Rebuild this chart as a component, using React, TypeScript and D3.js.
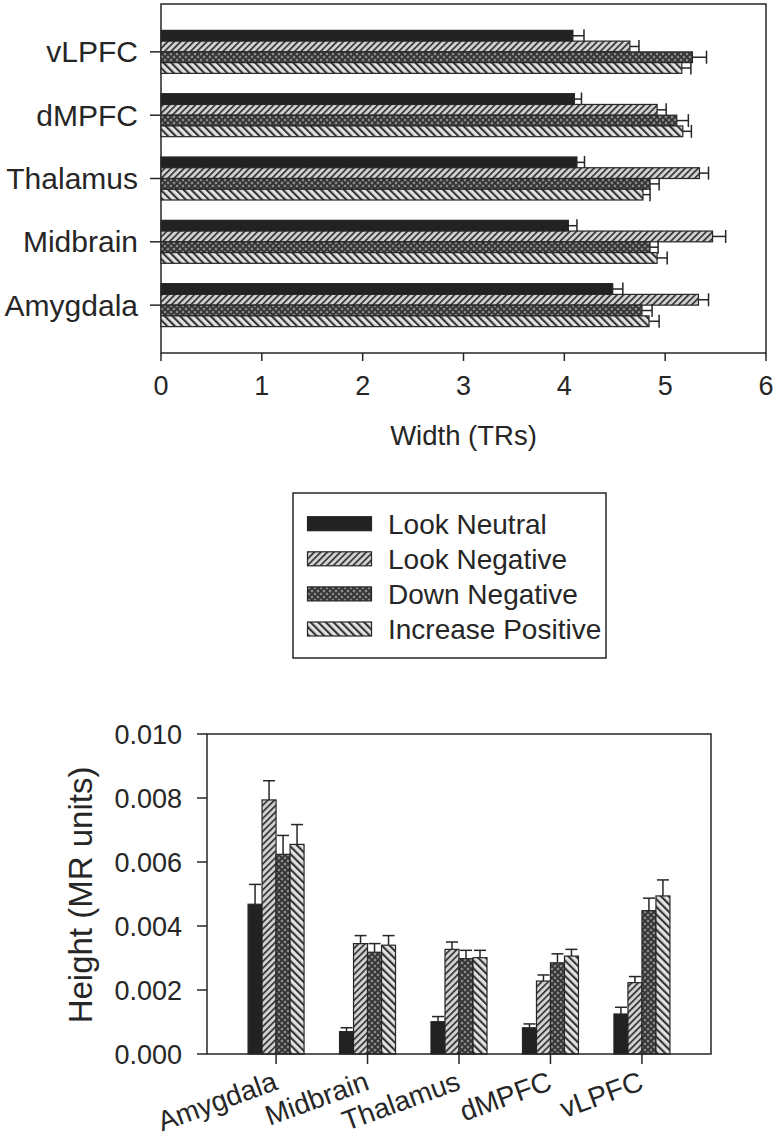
import React from "react";
import * as d3 from "d3";

const categories = ["Amygdala", "Midbrain", "Thalamus", "dMPFC", "vLPFC"];
const seriesNames = ["Look Neutral", "Look Negative", "Down Negative", "Increase Positive"];

// Width (TRs) — top chart
const widthLookNeutral = [4.48, 4.04, 4.125, 4.1, 4.085];
const widthLookNegative = [5.33, 5.47, 5.34, 4.92, 4.65];
const widthDownNegative = [4.77, 4.85, 4.85, 5.115, 5.27];
const widthIncreasePositive = [4.84, 4.92, 4.78, 5.175, 5.165];
const widthErrLookNeutral = [0.1, 0.085, 0.075, 0.07, 0.11];
const widthErrLookNegative = [0.1, 0.13, 0.09, 0.09, 0.09];
const widthErrDownNegative = [0.1, 0.08, 0.09, 0.115, 0.14];
const widthErrIncreasePositive = [0.1, 0.1, 0.07, 0.085, 0.09];
const widthTicks = [0, 1, 2, 3, 4, 5, 6];

// Height (MR units) — bottom chart
const heightLookNeutral = [0.00468, 0.0007, 0.00101, 0.00082, 0.00125];
const heightLookNegative = [0.00794, 0.00345, 0.00327, 0.00228, 0.00223];
const heightDownNegative = [0.00624, 0.00318, 0.00298, 0.00285, 0.00448];
const heightIncreasePositive = [0.00655, 0.0034, 0.00301, 0.00306, 0.00494];
const heightErrLookNeutral = [0.00062, 0.00012, 0.00016, 0.00012, 0.00021];
const heightErrLookNegative = [0.0006, 0.00025, 0.00023, 0.00019, 0.00019];
const heightErrDownNegative = [0.00059, 0.00027, 0.00026, 0.00028, 0.00039];
const heightErrIncreasePositive = [0.00062, 0.0003, 0.00023, 0.00021, 0.0005];
const heightTicks = [0, 0.002, 0.004, 0.006, 0.008, 0.01];

const widthValues = [widthLookNeutral, widthLookNegative, widthDownNegative, widthIncreasePositive];
const widthErrors = [widthErrLookNeutral, widthErrLookNegative, widthErrDownNegative, widthErrIncreasePositive];
const heightValues = [heightLookNeutral, heightLookNegative, heightDownNegative, heightIncreasePositive];
const heightErrors = [heightErrLookNeutral, heightErrLookNegative, heightErrDownNegative, heightErrIncreasePositive];

const FONT = "'Liberation Sans', Arial, Helvetica, sans-serif";
const INK = "#262626";
const fills = ["#222", "url(#pLookNeg)", "url(#pDownNeg)", "url(#pIncPos)"];

export default function App() {
  // ---------- top chart ----------
  const tL = 161, tR = 766, tT = 4, tB = 353;
  const xW = d3.scaleLinear().domain([0, 6]).range([tL, tR]);
  const yCat = d3.scalePoint<string>().domain([...categories].reverse()).range([tT, tB]).padding(0.756);
  const tGroup = 43;
  const ySer = d3.scaleBand<string>().domain(seriesNames).range([-tGroup / 2, tGroup / 2]);

  // ---------- bottom chart ----------
  const bL = 207, bR = 711, bT = 734, bB = 1054;
  const xCat = d3.scalePoint<string>().domain(categories).range([bL, bR]).padding(0.755);
  const yH = d3.scaleLinear().domain([0, 0.01]).range([bB, bT]);
  const bGroup = 56;
  const xSer = d3.scaleBand<string>().domain(seriesNames).range([-bGroup / 2, bGroup / 2]);

  const fmt = d3.format(".3f");

  return (
    <svg width={776} height={1136} style={{ position: "absolute", left: 0, top: 0, background: "#fff" }} fontFamily={FONT}>
      <defs>
        <pattern id="pLookNeg" patternUnits="userSpaceOnUse" width={4.6} height={4.6} patternTransform="rotate(45)">
          <rect width={4.6} height={4.6} fill="#d2d2d2" />
          <line x1={0.8} y1={0} x2={0.8} y2={4.6} stroke="#333" strokeWidth={1.8} />
        </pattern>
        <pattern id="pIncPos" patternUnits="userSpaceOnUse" width={5.4} height={5.4} patternTransform="rotate(-45)">
          <rect width={5.4} height={5.4} fill="#e2e2e2" />
          <line x1={1} y1={0} x2={1} y2={5.4} stroke="#333" strokeWidth={2.2} />
        </pattern>
        <pattern id="pDownNeg" patternUnits="userSpaceOnUse" width={6} height={6}>
          <rect width={6} height={6} fill="#8c8c8c" />
          <path d="M0,0 L6,6 M6,0 L0,6 M-1,5 L1,7 M5,-1 L7,1 M-1,1 L1,-1 M5,7 L7,5" stroke="#333" strokeWidth={1.9} />
        </pattern>
      </defs>

      {/* ===== TOP CHART ===== */}
      <rect x={tL} y={tT} width={tR - tL} height={tB - tT} fill="none" stroke={INK} strokeWidth={1.5} />
      {categories.map((c, ci) => {
        const cy = yCat(c)!;
        return (
          <g key={"tb" + c}>
            {seriesNames.map((s, si) => {
              const v = widthValues[si][ci];
              const e = widthErrors[si][ci];
              const y0 = cy + ySer(s)!;
              const h = ySer.bandwidth();
              const mid = y0 + h / 2;
              return (
                <g key={s}>
                  <line x1={xW(v)} x2={xW(v + e)} y1={mid} y2={mid} stroke={INK} strokeWidth={1.5} />
                  <line x1={xW(v + e)} x2={xW(v + e)} y1={mid - 6.5} y2={mid + 6.5} stroke={INK} strokeWidth={1.5} />
                  <rect x={xW(0)} y={y0} width={xW(v) - xW(0)} height={h} fill={fills[si]} stroke={INK} strokeWidth={1.2} />
                </g>
              );
            })}
            <line x1={tL - 11} x2={tL} y1={cy} y2={cy} stroke={INK} strokeWidth={1.5} />
            <text x={138} y={cy + 10.5} textAnchor="end" fontSize={30} fill={INK}>{c}</text>
          </g>
        );
      })}
      {widthTicks.map((t) => (
        <g key={"wt" + t}>
          <line x1={xW(t)} x2={xW(t)} y1={tB} y2={tB + 8} stroke={INK} strokeWidth={1.5} />
          <text x={xW(t)} y={394.5} textAnchor="middle" fontSize={27} fill={INK}>{t}</text>
        </g>
      ))}
      <text x={(tL + tR) / 2} y={445} textAnchor="middle" fontSize={27.5} fill={INK}>Width (TRs)</text>

      {/* ===== LEGEND ===== */}
      <rect x={293} y={493} width={313} height={165} fill="none" stroke={INK} strokeWidth={1.5} />
      {seriesNames.map((s, si) => {
        const cy = 523.7 + si * 35.1;
        return (
          <g key={"lg" + s}>
            <rect x={307.5} y={cy - 7} width={64} height={14} fill={fills[si]} stroke={INK} strokeWidth={1.2} />
            <text x={388} y={cy + 9.8} fontSize={28} fill={INK}>{s}</text>
          </g>
        );
      })}

      {/* ===== BOTTOM CHART ===== */}
      {categories.map((c, ci) => {
        const cx = xCat(c)!;
        return (
          <g key={"bb" + c}>
            {seriesNames.map((s, si) => {
              const v = heightValues[si][ci];
              const e = heightErrors[si][ci];
              const x0 = cx + xSer(s)!;
              const w = xSer.bandwidth();
              const mid = x0 + w / 2;
              return (
                <g key={s}>
                  <line x1={mid} x2={mid} y1={yH(v)} y2={yH(v + e)} stroke={INK} strokeWidth={1.5} />
                  <line x1={mid - 6} x2={mid + 6} y1={yH(v + e)} y2={yH(v + e)} stroke={INK} strokeWidth={1.5} />
                  <rect x={x0} y={yH(v)} width={w} height={yH(0) - yH(v)} fill={fills[si]} stroke={INK} strokeWidth={1.2} />
                </g>
              );
            })}
            <line x1={cx} x2={cx} y1={bB} y2={bB + 10} stroke={INK} strokeWidth={1.5} />
            <text transform={`translate(${cx + 3},${bB + 35}) rotate(-20)`} textAnchor="end" fontSize={28} fill={INK}>{c}</text>
          </g>
        );
      })}
      <rect x={bL} y={bT} width={bR - bL} height={bB - bT} fill="none" stroke={INK} strokeWidth={1.5} />
      {heightTicks.map((t) => (
        <g key={"ht" + t}>
          <line x1={bL - 10} x2={bL} y1={yH(t)} y2={yH(t)} stroke={INK} strokeWidth={1.5} />
          <text x={182} y={yH(t) + 9.5} textAnchor="end" fontSize={27} fill={INK}>{fmt(t)}</text>
        </g>
      ))}
      <text transform={`translate(92,895) rotate(-90)`} textAnchor="middle" fontSize={33} fill={INK}>Height (MR units)</text>
    </svg>
  );
}
